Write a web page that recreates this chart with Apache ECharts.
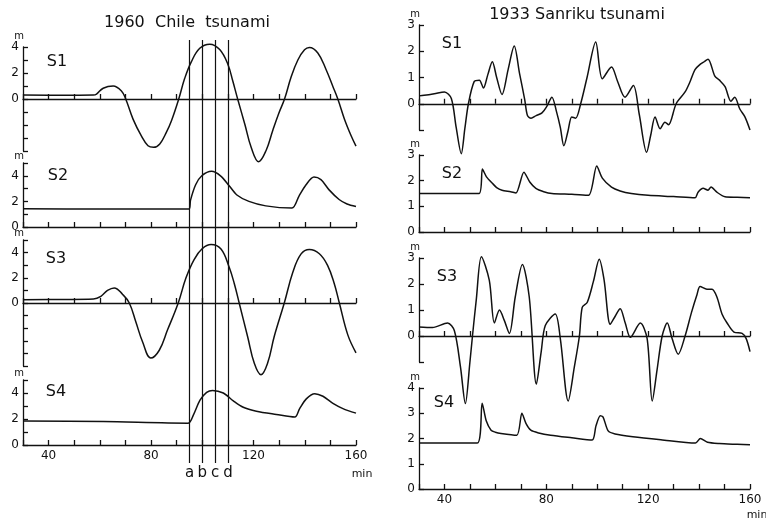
<!DOCTYPE html>
<html><head><meta charset="utf-8">
<script src="https://cdn.jsdelivr.net/npm/echarts@6/dist/echarts.min.js"></script>
<style>html,body{margin:0;padding:0;background:#fff}#c{width:766px;height:522px}</style>
</head><body><div id="c"></div>
<script>
// ---------- 1960 Chile tsunami (time in min, water level in m) ----------
const chileS1Time = [30, 45, 57.5, 58.7, 61.3, 65.2, 68.5, 70.1, 73, 76.2, 78.8, 81, 83.4, 86, 88, 90.8, 93.1, 95.7, 99, 102.9, 106.8, 110, 111.9, 113.8, 116.6, 119.1, 122, 124.9, 127.5, 129.8, 132.1, 134.7, 137.3, 139.9, 141.8, 145.1, 148.3, 150.9, 152.9, 155.5, 158.1, 160];
const chileS1Level = [0.3, 0.28, 0.3, 0.38, 0.83, 1.0, 0.6, 0, -1.57, -2.84, -3.6, -3.72, -3.46, -2.55, -1.65, 0, 1.57, 2.86, 3.9, 4.22, 3.8, 2.66, 1.38, 0, -1.94, -3.73, -4.82, -3.96, -2.42, -1.13, 0, 1.71, 3.0, 3.78, 3.96, 3.54, 2.27, 1.0, 0, -1.55, -2.83, -3.63];

const chileS2Time = [30, 60, 94.8, 95.4, 97.4, 99.8, 103.6, 107.1, 110.4, 113.5, 118.2, 124.8, 135, 137.7, 140.5, 143.6, 146.3, 149.5, 153.4, 156.5, 160];
const chileS2Level = [1.43, 1.4, 1.4, 2.1, 3.3, 4.0, 4.35, 4.0, 3.25, 2.5, 2.0, 1.65, 1.48, 2.4, 3.3, 3.9, 3.7, 2.9, 2.15, 1.8, 1.6];

const chileS3Time = [30, 45, 57.5, 60.4, 63, 65.6, 68.9, 71.5, 74.1, 76.7, 79.9, 83.2, 86.4, 90.6, 93.6, 96.8, 100.1, 103.4, 107.3, 110.5, 112.5, 114.4, 117.7, 120.3, 122.9, 125.5, 128.1, 132, 135.3, 138.5, 141.8, 145.7, 148.9, 151.5, 153.5, 156.8, 160];
const chileS3Level = [0.25, 0.28, 0.32, 0.53, 1.0, 1.2, 0.68, 0, -1.53, -3.1, -4.37, -3.75, -2.15, 0, 1.98, 3.45, 4.34, 4.65, 4.29, 2.84, 1.53, 0, -2.68, -4.79, -5.7, -4.77, -2.64, 0, 2.42, 3.88, 4.25, 3.91, 2.99, 1.55, 0, -2.53, -3.95];

const chileS4Time = [30, 61.4, 94.5, 96.5, 99.1, 101.7, 104, 108.2, 112.1, 116, 121.1, 128.9, 136.1, 138, 140.6, 143.9, 147.1, 151, 154.9, 160];
const chileS4Level = [1.85, 1.8, 1.68, 2.3, 3.45, 4.05, 4.2, 4.0, 3.4, 2.9, 2.6, 2.35, 2.15, 2.8, 3.55, 3.95, 3.75, 3.2, 2.8, 2.45];

// ---------- 1933 Sanriku tsunami ----------
const sanrikuS1Time = [30, 32, 36, 40, 42.7, 44.6, 46.6, 48, 49.4, 51.7, 53.7, 55.3, 57, 58.8, 60.5, 62.6, 65, 67.4, 69.5, 71.5, 72.6, 74, 76, 78.3, 80.2, 82.2, 84, 85.5, 86.9, 88.5, 90, 91.5, 93.5, 96, 99.4, 102, 105.6, 108, 110.9, 114.2, 116.5, 119.4, 121, 122.7, 124.7, 126.6, 128, 131, 134.5, 136.5, 138.4, 140.4, 142, 143.5, 146.2, 148, 150.2, 152.5, 154, 156, 158, 160];
const sanrikuS1Level = [0.3, 0.32, 0.38, 0.45, 0.2, -0.9, -1.9, -0.95, 0, 0.85, 0.9, 0.6, 1.1, 1.6, 1.0, 0.35, 1.3, 2.2, 1.15, 0.17, -0.45, -0.55, -0.45, -0.35, -0.1, 0.25, -0.3, -0.9, -1.6, -1.05, -0.5, -0.55, 0, 1.0, 2.35, 0.95, 1.4, 0.85, 0.25, 0.7, -0.4, -1.85, -1.2, -0.5, -0.95, -0.7, -0.8, 0, 0.45, 0.85, 1.3, 1.5, 1.6, 1.7, 1.05, 0.9, 0.65, 0.1, 0.25, -0.2, -0.5, -1.0];

const sanrikuS2Time = [30, 53.6, 54.9, 56.5, 58.8, 60.5, 62.6, 66, 68.1, 71.2, 73.5, 75.9, 79, 82.2, 90, 96.6, 99.8, 102, 105.6, 109, 113.4, 120, 130, 138.4, 139.6, 141.6, 143.5, 144.7, 147, 150.2, 155, 160];
const sanrikuS2Level = [1.5, 1.5, 2.45, 2.15, 1.9, 1.73, 1.63, 1.57, 1.52, 2.33, 1.95, 1.7, 1.57, 1.5, 1.47, 1.43, 2.57, 2.1, 1.75, 1.6, 1.5, 1.43, 1.38, 1.33, 1.55, 1.7, 1.63, 1.75, 1.55, 1.37, 1.35, 1.33];

const sanrikuS3Time = [30, 35.3, 41.2, 43.9, 46.3, 48.2, 50, 51, 52.5, 54.5, 57.6, 59.6, 61.6, 63.5, 65.5, 67.8, 70.6, 73.3, 76.1, 78, 79.6, 83.5, 85.5, 88.6, 91, 93, 94.1, 96.1, 98.5, 100.8, 102.7, 105.1, 107, 109, 111, 113, 116.9, 119.6, 121.6, 123.5, 125.5, 127.5, 129.4, 131.8, 134.5, 137, 139.2, 140.4, 143.1, 145.1, 147, 149, 151, 153.7, 156.9, 158.5, 160];
const sanrikuS3Level = [0.35, 0.33, 0.5, 0.2, -1.2, -2.6, -1.0, 0, 1.4, 3.05, 2.15, 0.5, 1.0, 0.6, 0.1, 1.5, 2.75, 1.5, -1.85, -0.6, 0.4, 0.85, -0.1, -2.5, -1.2, 0, 1.1, 1.3, 2.1, 2.95, 2.15, 0.45, 0.75, 1.05, 0.5, -0.05, 0.5, -0.1, -2.5, -1.3, 0, 0.5, -0.1, -0.7, 0, 0.9, 1.6, 1.9, 1.8, 1.8, 1.5, 0.85, 0.5, 0.15, 0.1, -0.1, -0.6];

const sanrikuS4Time = [30, 52.9, 54.8, 56.4, 58.3, 60, 62.2, 68.4, 70.4, 72, 73.9, 77, 81.7, 90, 98, 99.5, 101.2, 102.3, 104.3, 107, 114, 125, 138.6, 140.5, 143.3, 147.9, 155, 160];
const sanrikuS4Level = [1.82, 1.82, 3.4, 2.7, 2.33, 2.25, 2.2, 2.13, 3.0, 2.6, 2.33, 2.22, 2.13, 2.03, 1.94, 2.5, 2.9, 2.85, 2.3, 2.18, 2.07, 1.95, 1.82, 2.0, 1.85, 1.8, 1.77, 1.75];

// ---------- tick labels & markers ----------
const xTickLabels = [40, 80, 120, 160];
const chileYTickLabels = [0, 2, 4];
const sanrikuYTickLabels3 = [0, 1, 2, 3];
const sanrikuYTickLabels4 = [0, 1, 2, 3, 4];
const markerTimes = [95, 100, 105, 110];
const markerNames = ['a', 'b', 'c', 'd'];
const panelNames = ['S1', 'S2', 'S3', 'S4'];

// ---------- layout ----------
const FONT = '"DejaVu Sans", "Liberation Sans", sans-serif';
const INK = '#111';
const L = {left: 23, width: 333};
const R = {left: 419, width: 331};

const panels = [
  {t: chileS1Time, v: chileS1Level, yMin: -4, yMax: 4, yl: chileYTickLabels, g: {...L, top: 47, height: 104}, xl: false, smooth: 0.4, lab: [57, 62]},
  {t: chileS2Time, v: chileS2Level, yMin: 0, yMax: 5, yl: chileYTickLabels, g: {...L, top: 163, height: 64}, xl: false, smooth: 0.3, lab: [58, 176]},
  {t: chileS3Time, v: chileS3Level, yMin: -5, yMax: 5, yl: chileYTickLabels, g: {...L, top: 240, height: 126}, xl: false, smooth: 0.4, lab: [56, 259]},
  {t: chileS4Time, v: chileS4Level, yMin: 0, yMax: 5, yl: chileYTickLabels, g: {...L, top: 380, height: 65}, xl: true, smooth: 0.3, lab: [56, 392]},
  {t: sanrikuS1Time, v: sanrikuS1Level, yMin: -1, yMax: 3, yl: sanrikuYTickLabels3, g: {...R, top: 25, height: 105}, xl: false, smooth: 0.3, lab: [452, 44]},
  {t: sanrikuS2Time, v: sanrikuS2Level, yMin: 0, yMax: 3, yl: sanrikuYTickLabels3, g: {...R, top: 155, height: 77}, xl: false, smooth: 0.25, lab: [452, 174]},
  {t: sanrikuS3Time, v: sanrikuS3Level, yMin: -1, yMax: 3, yl: sanrikuYTickLabels3, g: {...R, top: 258, height: 104}, xl: false, smooth: 0.3, lab: [447, 277]},
  {t: sanrikuS4Time, v: sanrikuS4Level, yMin: 0, yMax: 4, yl: sanrikuYTickLabels4, g: {...R, top: 388, height: 101}, xl: true, smooth: 0.25, lab: [444, 403]}
];

const axisLineStyle = {color: INK, width: 1.3};
const grids = panels.map(p => p.g);
const xAxes = panels.map(p => ({
  type: 'value', gridIndex: grids.indexOf(p.g), min: 30, max: 160, interval: 10,
  axisLine: {show: true, onZero: true, lineStyle: axisLineStyle},
  axisTick: {show: true, inside: true, length: 5, lineStyle: axisLineStyle},
  axisLabel: {show: p.xl, color: INK, fontSize: 12, fontFamily: FONT, margin: 5,
    formatter: v => xTickLabels.includes(v) ? String(v) : ''},
  splitLine: {show: false}
}));
const yAxes = panels.map((p, i) => ({
  type: 'value', gridIndex: i, min: p.yMin, max: p.yMax, interval: 1,
  name: 'm', nameLocation: 'end', nameGap: 2,
  nameTextStyle: {color: INK, fontSize: 10, fontFamily: FONT, align: 'right', padding: [0, -1, 0, 0]},
  axisLine: {show: true, onZero: false, lineStyle: axisLineStyle},
  axisTick: {show: true, inside: true, length: 5, lineStyle: axisLineStyle},
  axisLabel: {color: INK, fontSize: 12, fontFamily: FONT, margin: 4,
    formatter: v => p.yl.includes(v) ? String(v) : ''},
  splitLine: {show: false}
}));
const series = panels.map((p, i) => ({
  type: 'line', xAxisIndex: i, yAxisIndex: i,
  data: p.t.map((x, k) => [x, p.v[k]]),
  symbol: 'none', smooth: p.smooth, clip: false, silent: true,
  lineStyle: {color: INK, width: 1.5}
}));

// overlay grid for the a-d marker lines (left column)
grids.push({left: L.left, width: L.width, top: 40, bottom: 59});
xAxes.push({type: 'value', gridIndex: 8, min: 30, max: 160, show: false});
yAxes.push({type: 'value', gridIndex: 8, min: 0, max: 1, show: false});
series.push({
  type: 'line', xAxisIndex: 8, yAxisIndex: 8, data: [], silent: true,
  markLine: {
    symbol: ['none', 'none'], silent: true, animation: false,
    lineStyle: {color: INK, width: 1.2, type: 'solid'},
    label: {show: true, position: 'start', formatter: '{b}', color: INK, fontSize: 15, fontFamily: FONT, distance: 3},
    data: markerTimes.map((t, k) => ({xAxis: t, name: markerNames[k]}))
  }
});

function txt(text, x, y, size) {
  return {type: 'text', x: x, y: y, silent: true,
    style: {text: text, font: size + 'px ' + FONT, fill: INK,
      textAlign: 'center', textVerticalAlign: 'middle', align: 'center', verticalAlign: 'middle'}};
}
const graphics = [
  txt('1960  Chile  tsunami', 187, 23, 16),
  txt('1933 Sanriku tsunami', 577, 15, 16),
  txt('min', 362, 474, 11),
  txt('min', 757, 515, 11)
].concat(panels.map((p, i) => txt(panelNames[i % 4], p.lab[0], p.lab[1], 16)));

const chart = echarts.init(document.getElementById('c'), null, {renderer: 'canvas'});
chart.setOption({
  animation: false,
  backgroundColor: '#fff',
  grid: grids, xAxis: xAxes, yAxis: yAxes, series: series,
  graphic: graphics
});
</script></body></html>
